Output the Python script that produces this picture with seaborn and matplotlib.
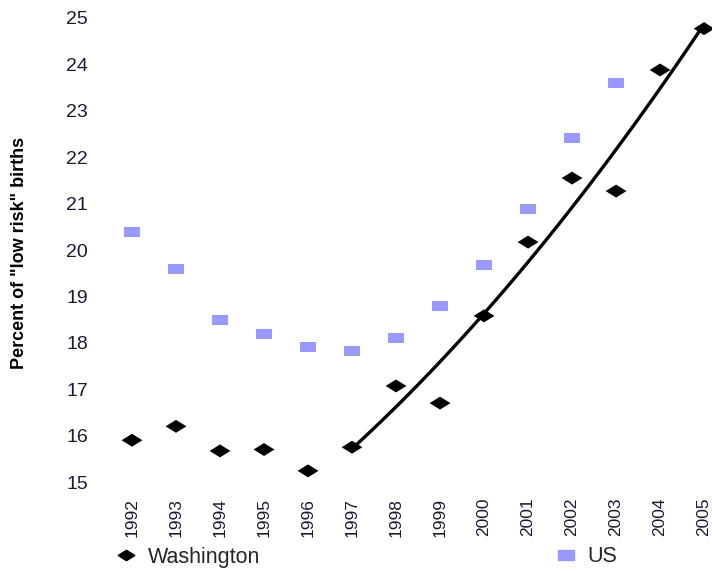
import numpy as np
import pandas as pd
import matplotlib
matplotlib.use("Agg")
import matplotlib.pyplot as plt
from matplotlib.path import Path
from matplotlib.lines import Line2D
import seaborn as sns

years = [1992, 1993, 1994, 1995, 1996, 1997, 1998, 1999, 2000, 2001, 2002, 2003, 2004, 2005]
washington = [15.9, 16.2, 15.67, 15.7, 15.24, 15.75, 17.07, 16.7, 18.58, 20.17, 21.55, 21.27, 23.88, 24.77]
us_years = [1992, 1993, 1994, 1995, 1996, 1997, 1998, 1999, 2000, 2001, 2002, 2003]
us = [20.39, 19.59, 18.49, 18.19, 17.91, 17.82, 18.1, 18.79, 19.68, 20.88, 22.41, 23.6]
y_ticks = [15, 16, 17, 18, 19, 20, 21, 22, 23, 24, 25]
trend_start = 1997

sns.set_theme(style="white")
plt.rcParams['font.family'] = ['Liberation Sans', 'DejaVu Sans']

df_wa = pd.DataFrame({"year": years, "value": washington})
df_us = pd.DataFrame({"year": us_years, "value": us})
df_trend = df_wa[df_wa["year"] >= trend_start]

diamond = Path([(-1, 0), (0, 0.62), (1, 0), (0, -0.62), (-1, 0)],
               [Path.MOVETO, Path.LINETO, Path.LINETO, Path.LINETO, Path.CLOSEPOLY])
rect = Path([(-1, -0.62), (1, -0.62), (1, 0.62), (-1, 0.62), (-1, -0.62)],
            [Path.MOVETO, Path.LINETO, Path.LINETO, Path.LINETO, Path.CLOSEPOLY])

fig = plt.figure(figsize=(7.12, 5.71), dpi=100)
ax = fig.add_axes([110/712, 76/571, 602/712, 490/571])

sns.scatterplot(data=df_us, x="year", y="value", marker=rect, s=135,
                color="#9999ff", edgecolor="none", ax=ax, zorder=2)
sns.regplot(data=df_trend, x="year", y="value", order=2, ci=None, scatter=False,
            truncate=True, line_kws=dict(color="black", lw=2.4), ax=ax)
sns.scatterplot(data=df_wa, x="year", y="value", marker=diamond, s=225,
                color="black", edgecolor="none", ax=ax, zorder=3)

ax.set_xlim(1991.5, 2005.18)
ax.set_ylim(14.72, 25.28)
ax.set_xticks(years)
ax.set_xticklabels([str(y) for y in years], rotation=90, fontsize=12.5, color="#1a1a33")
ax.set_yticks(y_ticks)
ax.set_yticklabels([str(v) for v in y_ticks], fontsize=14, color="#1a1a33")
ax.tick_params(axis="y", pad=16, length=0)
ax.tick_params(axis="x", pad=2, length=0)
for s in ax.spines.values():
    s.set_visible(False)
ax.set_xlabel("")
ax.set_ylabel('Percent of "low risk" births', fontsize=13, fontweight="bold",
              color="black", labelpad=0)
ax.yaxis.set_label_coords(-(110 - 28) / 602, 0.5 + (250 - 253) / 490)

handles = [
    Line2D([], [], linestyle="none", marker=diamond, markersize=12, color="black"),
    Line2D([], [], linestyle="none", marker=rect, markersize=11, color="#9999ff"),
]
fig.legend(handles, ["Washington", "US"], loc="center left",
           bbox_to_anchor=(98/712, 1 - 557/571), ncol=2, frameon=False,
           fontsize=15.5, columnspacing=13.8, handlelength=0.8, handletextpad=0.6)

fig.savefig("out.png", dpi=100)
